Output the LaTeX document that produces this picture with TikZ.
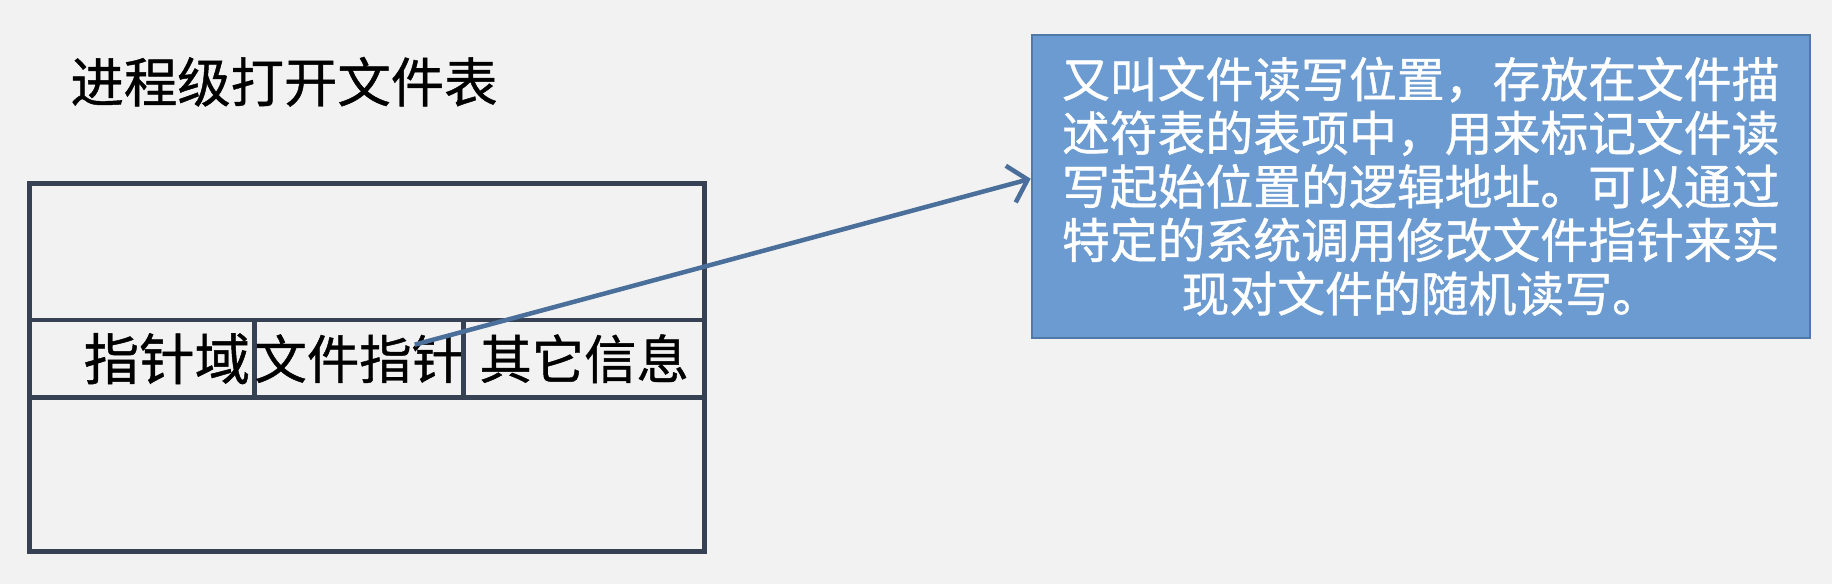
\documentclass[tikz,border=0pt]{standalone}
\usepackage{fontspec}
\setmainfont{Noto Sans CJK SC}[FakeBold=0.8]
\usetikzlibrary{positioning,arrows.meta}

\definecolor{bgray}{HTML}{F2F2F2}
\definecolor{tline}{HTML}{364253}
\definecolor{nfill}{HTML}{6B9BD1}
\definecolor{nline}{HTML}{5079AA}
\definecolor{aline}{HTML}{4B6F9B}

\begin{document}
\begin{tikzpicture}[
                    cell/.style={rectangle, draw=tline, line width=2.3pt, minimum height=1.32cm, inner sep=0pt, outer sep=0pt, font=\fontsize{25.5pt}{30pt}\selectfont},
                    note/.style={rectangle, draw=nline, line width=1pt, fill=nfill, text=white, minimum width=13.32cm, minimum height=5.18cm, align=center, font=\fontsize{23.3pt}{26.1pt}\selectfont}]
  \fill[bgray] (0,0) rectangle (31.36,-10);
  \useasboundingbox (0,0) rectangle (31.36,-10);
  \node[anchor=west, inner sep=0pt, font=\fontsize{26pt}{30pt}\selectfont] (title) at (1.2,-1.4) {进程级打开文件表};
  \node[rectangle, draw=tline, line width=2.3pt, minimum width=11.56cm, minimum height=6.3cm] (table) at (6.28,-6.29) {};
   \node[cell, minimum width=3.86cm, font=\fontsize{27pt}{30pt}\selectfont] (field) at (2.43,-6.14) {\makebox[3.7cm][r]{指针域}};
   \node[cell, right=0pt of field, minimum width=3.58cm] (ptr) {\makebox[3.5cm]{文件指针}};
   \node[cell, right=0pt of ptr, minimum width=4.12cm] (info) {\makebox[3.9cm]{其它信息}};
   \node[note] (desc) at (24.32,-3.19) {又叫文件读写位置，存放在文件描\\述符表的表项中，用来标记文件读\\写起始位置的逻辑地址。可以通过\\特定的系统调用修改文件指针来实\\现对文件的随机读写。};
   \coordinate (start) at (7.1,-5.9);
   \draw[-{Straight Barb[length=3mm,width=6.5mm]}, aline, line width=2.2pt] (start) -- ([yshift=0.13cm]desc.west);
 \end{tikzpicture}
\end{document}
